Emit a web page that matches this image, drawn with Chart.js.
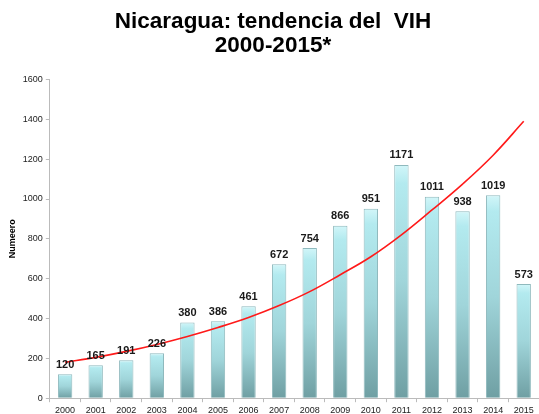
<!DOCTYPE html>
<html>
<head>
<meta charset="utf-8">
<script src="https://cdn.jsdelivr.net/npm/chart.js@4"></script>
<style>
  html, body { margin: 0; padding: 0; background: #fff; }
  #wrap { width: 539px; height: 414px; }
</style>
</head>
<body>
<div id="wrap"><canvas id="vihChart"></canvas></div>
<script>
// Data
const years = ['2000', '2001', '2002', '2003', '2004', '2005', '2006', '2007',
               '2008', '2009', '2010', '2011', '2012', '2013', '2014', '2015'];
const cases = [120, 165, 191, 226, 380, 386, 461, 672, 754, 866, 951, 1171, 1011, 938, 1019, 573];
// Red trend curve, estimated at each year
const trend = [180, 205, 235, 270, 310, 355, 405, 465, 535, 620, 710, 820, 945, 1075, 1220, 1390];
const titleLines = ['Nicaragua: tendencia del  VIH', '2000-2015*'];

// Bar gradient per bar (light top, darker teal bottom)
function barFill(context) {
    const chart = context.chart;
    const area = chart.chartArea;
    if (!area || context.raw == null) return '#9fd6dc';
    const top = chart.scales.y.getPixelForValue(context.raw);
    const g = chart.ctx.createLinearGradient(0, top, 0, area.bottom);
    g.addColorStop(0, '#d2f6f9');
    g.addColorStop(0.08, '#b3eaef');
    g.addColorStop(0.5, '#a0d5da');
    g.addColorStop(1, '#6f9fa3');
    return g;
}

// Value labels above the bars
const barLabels = {
    id: 'barLabels',
    afterDatasetsDraw(chart) {
        const ctx = chart.ctx;
        const meta = chart.getDatasetMeta(1);
        ctx.save();
        ctx.font = 'bold 11px "Liberation Sans", Arial, sans-serif';
        ctx.fillStyle = '#1a1a1a';
        ctx.textAlign = 'center';
        ctx.textBaseline = 'bottom';
        meta.data.forEach((bar, i) => {
            ctx.fillText(String(cases[i]), bar.x, bar.y - 4);
        });
        ctx.restore();
    }
};

const ctx = document.getElementById('vihChart').getContext('2d');
new Chart(ctx, {
    data: {
        labels: years,
        datasets: [
            {
                type: 'line',
                label: 'Tendencia',
                data: trend,
                borderColor: '#ff1a1a',
                borderWidth: 1.6,
                pointRadius: 0,
                tension: 0.4,
                fill: false,
                order: 0
            },
            {
                type: 'bar',
                label: 'Casos',
                data: cases,
                backgroundColor: barFill,
                borderColor: '#8fb9bd',
                borderWidth: 1,
                barPercentage: 0.47,
                categoryPercentage: 1,
                order: 1
            }
        ]
    },
    options: {
        responsive: true,
        maintainAspectRatio: false,
        animation: false,
        layout: { padding: { left: 7, right: 0, top: 0, bottom: -5 } },
        plugins: {
            legend: { display: false },
            tooltip: { enabled: false },
            title: {
                display: true,
                text: titleLines,
                color: '#000',
                font: { family: '"Liberation Sans", Arial, sans-serif', size: 22.5, weight: 'bold', lineHeight: 1.1 },
                padding: { top: 9, bottom: 21 }
            }
        },
        scales: {
            x: {
                grid: { display: true, drawOnChartArea: false, color: '#bbb', tickLength: 4 },
                border: { color: '#bbb' },
                ticks: {
                    color: '#222',
                    font: { family: '"Liberation Sans", Arial, sans-serif', size: 9 },
                    maxRotation: 0,
                    autoSkip: false,
                    padding: 3
                }
            },
            y: {
                min: 0,
                max: 1600,
                grid: { display: true, drawOnChartArea: false, color: '#bbb', tickLength: 4 },
                border: { color: '#bbb' },
                ticks: {
                    stepSize: 200,
                    color: '#222',
                    font: { family: '"Liberation Sans", Arial, sans-serif', size: 9 },
                    padding: 3,
                    callback: (v) => String(v)
                },
                title: {
                    display: true,
                    text: 'Numeero',
                    color: '#000',
                    font: { family: '"Liberation Sans", Arial, sans-serif', size: 9, weight: 'bold' },
                    padding: { top: 0, bottom: 2 }
                }
            }
        }
    },
    plugins: [barLabels]
});
</script>
</body>
</html>
